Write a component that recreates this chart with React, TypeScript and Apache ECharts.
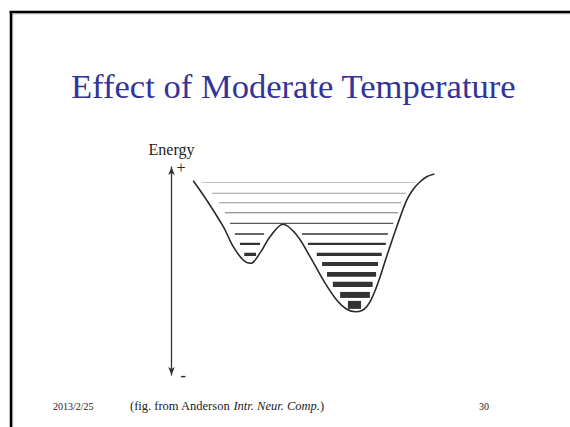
import React, { useEffect, useRef } from 'react';
import * as echarts from 'echarts';

// Energy landscape curve (x position, energy)
const curveX = [8.1, 13.1, 19.3, 23.0, 26.7, 29.5, 33.0, 36.7, 41.6, 46.6, 51.6, 56.5, 61.5, 65.3, 68.6, 72.7, 76.4, 80.1, 83.9, 87.6, 90.1, 92.6, 95.0, 97.9];
const curveEnergy = [93.4, 84.1, 71.3, 61.7, 55.3, 53.7, 58.7, 66.5, 72.5, 67.3, 56.9, 45.7, 36.1, 31.6, 30.4, 32.8, 42.5, 56.9, 71.3, 84.1, 89.4, 92.9, 95.3, 96.6];

// Energy level segments (energy, horizontal extent, occupancy)
const levelEnergy = [92.5, 87.4, 82.8, 78.0, 72.9, 67.8, 67.8, 63.0, 63.0, 58.0, 58.0, 53.4, 48.4, 43.6, 38.5, 33.7];
const levelFrom = [11.2, 15.0, 17.7, 19.9, 21.8, 23.6, 48.6, 25.5, 50.8, 27.1, 54.1, 56.1, 57.9, 60.1, 62.8, 65.7];
const levelTo = [90.7, 87.3, 85.7, 84.4, 82.6, 34.5, 80.6, 33.0, 79.8, 31.5, 78.3, 76.9, 76.2, 74.9, 73.9, 70.6];
const levelOccupancy = [0.07, 0.09, 0.1, 0.13, 0.16, 0.21, 0.21, 0.29, 0.29, 0.38, 0.38, 0.5, 0.59, 0.66, 0.75, 1.0];

const energyTicks = ['-', '+'];

const titleText = 'Effect of Moderate Temperature';
const dateText = '2013/2/25';
const pageText = '30';

const SERIF = '"Liberation Serif", "Times New Roman", serif';

function levelColor(occ: number) {
  const t = Math.min(1, Math.max(0, (0.2 - occ) / 0.13));
  const g = Math.round(51 + t * 125);
  return `rgb(${g},${g},${g})`;
}

export default function App() {
  const ref = useRef<HTMLDivElement>(null);
  useEffect(() => {
    document.body.style.margin = '0';
    const chart = echarts.init(ref.current!, null, { renderer: 'svg' });
    const levels = levelEnergy.map((e, i) => [levelFrom[i], levelTo[i], e, levelOccupancy[i]]);
    chart.setOption({
      animation: false,
      backgroundColor: '#ffffff',
      grid: { left: 171.5, right: 130, top: 167, bottom: 52 },
      xAxis: { type: 'value', min: 0, max: 100, show: false },
      yAxis: {
        type: 'value',
        min: 0,
        max: 100,
        interval: 100,
        name: 'Energy',
        nameLocation: 'end',
        nameGap: 10,
        nameTextStyle: { fontFamily: SERIF, fontSize: 16, color: '#222' },
        axisLine: {
          show: true,
          symbol: ['arrow', 'arrow'],
          symbolSize: [5, 8],
          lineStyle: { color: '#333', width: 1.3 },
        },
        axisTick: { show: false },
        splitLine: { show: false },
        axisLabel: {
          inside: true,
          margin: 5,
          color: '#222',
          fontFamily: SERIF,
          fontSize: 16,
          formatter: (v: number) => (v >= 100 ? `{p|${energyTicks[1]}}` : `{m|${energyTicks[0]}}`),
          rich: {
            p: { fontFamily: SERIF, fontSize: 16, color: '#222' },
            m: { fontFamily: SERIF, fontSize: 16, color: '#222', fontWeight: 'bold', padding: [0, 0, 0, 4] },
          },
        },
      },
      series: [
        {
          type: 'custom',
          data: levels,
          encode: { x: [0, 1], y: 2 },
          renderItem: (params: any, api: any) => {
            const a = api.coord([api.value(0), api.value(2)]);
            const b = api.coord([api.value(1), api.value(2)]);
            const occ = api.value(3);
            const h = Math.max(0.9, occ * 8);
            return {
              type: 'rect',
              shape: { x: a[0], y: a[1] - h / 2, width: b[0] - a[0], height: h },
              style: { fill: levelColor(occ) },
            };
          },
          z: 2,
        },
        {
          type: 'line',
          data: curveX.map((x, i) => [x, curveEnergy[i]]),
          smooth: 0.35,
          showSymbol: false,
          lineStyle: { color: '#2a2a2a', width: 1.6 },
          z: 3,
        },
      ],
      graphic: [
        { type: 'line', shape: { x1: 9.5, y1: 12, x2: 570, y2: 12 }, style: { stroke: '#000', lineWidth: 2.5 } },
        { type: 'line', shape: { x1: 11, y1: 12, x2: 11, y2: 427 }, style: { stroke: '#000', lineWidth: 2.5 } },
        { type: 'line', shape: { x1: 12.5, y1: 13.7, x2: 570, y2: 13.7 }, style: { stroke: '#999', lineWidth: 1 } },
        { type: 'line', shape: { x1: 12.7, y1: 13.5, x2: 12.7, y2: 427 }, style: { stroke: '#999', lineWidth: 1 } },
        {
          type: 'text',
          x: 71,
          y: 86,
          style: { text: titleText, font: `34.6px ${SERIF}`, fill: '#333399', align: 'left', verticalAlign: 'middle' },
        },
        {
          type: 'text',
          x: 53,
          y: 406,
          style: { text: dateText, font: `10px ${SERIF}`, fill: '#222', align: 'left', verticalAlign: 'middle' },
        },
        {
          type: 'text',
          x: 130,
          y: 406,
          style: {
            text: '{n|(fig. from Anderson }{i|Intr. Neur. Comp.}{n|)}',
            align: 'left',
            verticalAlign: 'middle',
            rich: {
              n: { fontFamily: SERIF, fontSize: 12.5, fill: '#222' },
              i: { fontFamily: SERIF, fontSize: 12.5, fontStyle: 'italic', fill: '#222' },
            },
          },
        },
        {
          type: 'text',
          x: 479,
          y: 406,
          style: { text: pageText, font: `10px ${SERIF}`, fill: '#222', align: 'left', verticalAlign: 'middle' },
        },
      ],
    });
    return () => chart.dispose();
  }, []);
  return <div ref={ref} style={{ position: 'fixed', left: 0, top: 0, width: 570, height: 427, background: '#fff' }} />;
}
